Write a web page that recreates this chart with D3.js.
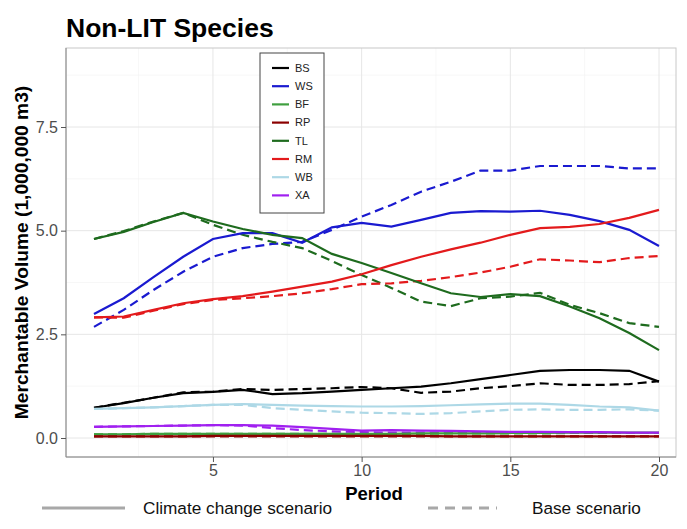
<!DOCTYPE html>
<html>
<head>
<meta charset="utf-8">
<script src="https://cdn.jsdelivr.net/npm/d3@7"></script>
<style>
  body { margin: 0; background: #fff; }
  svg { display: block; font-family: "Liberation Sans", Arial, sans-serif; }
</style>
</head>
<body>
<svg id="svg" width="687" height="529"></svg>
<script>
// periods and species
const periods = [1,2,3,4,5,6,7,8,9,10,11,12,13,14,15,16,17,18,19,20]
const species = ["BS","WS","BF","RP","TL","RM","WB","XA"]
const speciesColors = ["#000000","#1a1ad0","#3f9f3f","#8b0000","#1e6b1e","#e31a1c","#add8e6","#a020f0"]

// climate change scenario (solid)
const bsClimate = [0.73,0.84,0.97,1.08,1.11,1.16,1.06,1.08,1.12,1.16,1.20,1.24,1.32,1.42,1.52,1.62,1.64,1.64,1.62,1.36]
const wsClimate = [2.99,3.37,3.88,4.37,4.80,4.94,4.94,4.71,5.08,5.19,5.10,5.26,5.43,5.47,5.46,5.48,5.38,5.23,5.02,4.63]
const bfClimate = [0.09,0.09,0.10,0.10,0.10,0.10,0.10,0.10,0.10,0.10,0.10,0.11,0.11,0.11,0.12,0.12,0.13,0.13,0.13,0.13]
const rpClimate = [0.04,0.04,0.04,0.04,0.05,0.05,0.05,0.05,0.05,0.05,0.05,0.05,0.04,0.04,0.04,0.04,0.04,0.04,0.04,0.04]
const tlClimate = [4.80,4.97,5.21,5.43,5.22,5.04,4.90,4.82,4.44,4.22,3.98,3.73,3.49,3.40,3.47,3.42,3.17,2.89,2.53,2.12]
const rmClimate = [2.91,2.93,3.09,3.25,3.35,3.42,3.53,3.65,3.77,3.95,4.17,4.37,4.55,4.71,4.90,5.06,5.09,5.16,5.31,5.50]
const wbClimate = [0.70,0.72,0.74,0.77,0.80,0.82,0.80,0.78,0.77,0.76,0.76,0.77,0.79,0.81,0.83,0.83,0.80,0.76,0.74,0.66]
const xaClimate = [0.27,0.28,0.29,0.30,0.31,0.31,0.30,0.26,0.22,0.18,0.19,0.18,0.17,0.16,0.15,0.15,0.14,0.14,0.13,0.13]

// base scenario (dashed)
const bsBase = [0.73,0.85,0.97,1.10,1.12,1.18,1.16,1.18,1.20,1.23,1.20,1.09,1.12,1.20,1.25,1.32,1.28,1.28,1.30,1.37]
const wsBase = [2.68,3.09,3.57,4.01,4.37,4.58,4.68,4.73,5.02,5.34,5.62,5.94,6.18,6.45,6.45,6.56,6.56,6.56,6.50,6.50]
const bfBase = [0.09,0.09,0.10,0.10,0.10,0.10,0.10,0.10,0.10,0.10,0.10,0.10,0.11,0.11,0.11,0.11,0.12,0.12,0.12,0.12]
const rpBase = [0.04,0.04,0.04,0.04,0.04,0.04,0.04,0.04,0.04,0.04,0.04,0.04,0.04,0.04,0.04,0.04,0.04,0.04,0.04,0.04]
const tlBase = [4.80,4.99,5.22,5.43,5.14,4.90,4.73,4.58,4.27,3.93,3.62,3.29,3.18,3.37,3.41,3.50,3.21,3.01,2.77,2.68]
const rmBase = [2.91,2.90,3.07,3.23,3.33,3.37,3.42,3.49,3.59,3.71,3.73,3.79,3.88,3.99,4.13,4.31,4.28,4.24,4.34,4.39]
const wbBase = [0.70,0.72,0.74,0.77,0.80,0.80,0.72,0.68,0.64,0.61,0.60,0.58,0.60,0.64,0.68,0.69,0.68,0.68,0.69,0.66]
const xaBase = [0.27,0.28,0.29,0.30,0.31,0.30,0.24,0.19,0.16,0.14,0.13,0.13,0.13,0.13,0.13,0.13,0.12,0.12,0.12,0.12]

const xTicks = [5,10,15,20]
const yTicks = [0,2.5,5,7.5]
const xMinor = [2.5,7.5,12.5,17.5]
const yMinor = [1.25,3.75,6.25,8.75]

const climate = [bsClimate,wsClimate,bfClimate,rpClimate,tlClimate,rmClimate,wbClimate,xaClimate]
const base = [bsBase,wsBase,bfBase,rpBase,tlBase,rmBase,wbBase,xaBase]

const svg = d3.select("#svg")
const panel = {left: 66, right: 676, top: 48, bottom: 457}

const x = d3.scaleLinear().domain([1,20]).range([94,659])
const y = d3.scaleLinear().domain([0,7.5]).range([438,127])

// grid
const grid = svg.append("g")
grid.selectAll(".vminor").data(xMinor).join("line")
  .attr("x1", d => x(d)).attr("x2", d => x(d))
  .attr("y1", panel.top).attr("y2", panel.bottom)
  .attr("stroke", "#f2f2f2").attr("stroke-width", 0.6)
grid.selectAll(".hminor").data(yMinor).join("line")
  .attr("y1", d => y(d)).attr("y2", d => y(d))
  .attr("x1", panel.left).attr("x2", panel.right)
  .attr("stroke", "#f2f2f2").attr("stroke-width", 0.6)
grid.selectAll(".vmajor").data(xTicks).join("line")
  .attr("x1", d => x(d)).attr("x2", d => x(d))
  .attr("y1", panel.top).attr("y2", panel.bottom)
  .attr("stroke", "#e6e6e6").attr("stroke-width", 1)
grid.selectAll(".hmajor").data(yTicks).join("line")
  .attr("y1", d => y(d)).attr("y2", d => y(d))
  .attr("x1", panel.left).attr("x2", panel.right)
  .attr("stroke", "#e6e6e6").attr("stroke-width", 1)

// lines
const line = d3.line().x((d,i) => x(periods[i])).y(d => y(d))

const lines = svg.append("g").attr("fill", "none").attr("stroke-width", 2.2)
lines.selectAll(".base").data(base).join("path")
  .attr("d", line)
  .attr("stroke", (d,i) => speciesColors[i])
  .attr("stroke-dasharray", "9,5")
lines.selectAll(".climate").data(climate).join("path")
  .attr("d", line)
  .attr("stroke", (d,i) => speciesColors[i])

// panel border
svg.append("rect")
  .attr("x", panel.left).attr("y", panel.top)
  .attr("width", panel.right - panel.left).attr("height", panel.bottom - panel.top)
  .attr("fill", "none").attr("stroke", "#c8c8c8")
svg.append("path")
  .attr("d", `M${panel.left},${panel.top}V${panel.bottom}H${panel.right}`)
  .attr("fill", "none").attr("stroke", "#888")

// axes
const xAxis = d3.axisBottom(x).tickValues(xTicks).tickSize(5).tickPadding(3)
svg.append("g").attr("transform", `translate(0,${panel.bottom})`).call(xAxis)
  .call(g => g.select(".domain").remove())
  .call(g => g.selectAll("line").attr("stroke", "#555"))
  .call(g => g.selectAll("text").attr("fill", "#4d4d4d").attr("font-size", 16).attr("font-family", "Liberation Sans, Arial, sans-serif"))

const yAxis = d3.axisLeft(y).tickValues(yTicks).tickFormat(d3.format(".1f")).tickSize(5).tickPadding(3)
svg.append("g").attr("transform", `translate(${panel.left},0)`).call(yAxis)
  .call(g => g.select(".domain").remove())
  .call(g => g.selectAll("line").attr("stroke", "#555"))
  .call(g => g.selectAll("text").attr("fill", "#4d4d4d").attr("font-size", 16).attr("font-family", "Liberation Sans, Arial, sans-serif"))

// title and axis labels
svg.append("text").attr("x", 66).attr("y", 37)
  .attr("font-size", 26.5).attr("font-weight", "bold").text("Non-LIT Species")
svg.append("text").attr("x", 374).attr("y", 500).attr("text-anchor", "middle")
  .attr("font-size", 18.5).attr("font-weight", "bold").text("Period")
svg.append("text")
  .attr("transform", `translate(28,${(panel.top + panel.bottom) / 2}) rotate(-90)`)
  .attr("text-anchor", "middle")
  .attr("font-size", 19.2).attr("font-weight", "bold")
  .text("Merchantable Volume (1,000,000 m3)")

// species legend
const legend = svg.append("g")
legend.append("rect").attr("x", 260).attr("y", 53).attr("width", 64).attr("height", 160)
  .attr("fill", "#fff").attr("stroke", "#444").attr("stroke-width", 1)
const keys = legend.selectAll(".key").data(species).join("g")
  .attr("transform", (d,i) => `translate(0,${68 + i * 18.2})`)
keys.append("line").attr("x1", 272).attr("x2", 289)
  .attr("stroke", (d,i) => speciesColors[i]).attr("stroke-width", 2.2)
keys.append("text").attr("x", 295).attr("dy", "0.35em")
  .attr("font-size", 11).attr("fill", "#222").text(d => d)

// scenario legend
const scen = svg.append("g")
scen.append("line").attr("x1", 42).attr("x2", 125).attr("y1", 508).attr("y2", 508)
  .attr("stroke", "#a8a8a8").attr("stroke-width", 3)
scen.append("text").attr("x", 143).attr("y", 514).attr("font-size", 17.2).attr("fill", "#111")
  .text("Climate change scenario")
scen.append("line").attr("x1", 428).attr("x2", 497).attr("y1", 508).attr("y2", 508)
  .attr("stroke", "#a8a8a8").attr("stroke-width", 3).attr("stroke-dasharray", "10,7")
scen.append("text").attr("x", 532).attr("y", 514).attr("font-size", 17.2).attr("fill", "#111")
  .text("Base scenario")
</script>
</body>
</html>
